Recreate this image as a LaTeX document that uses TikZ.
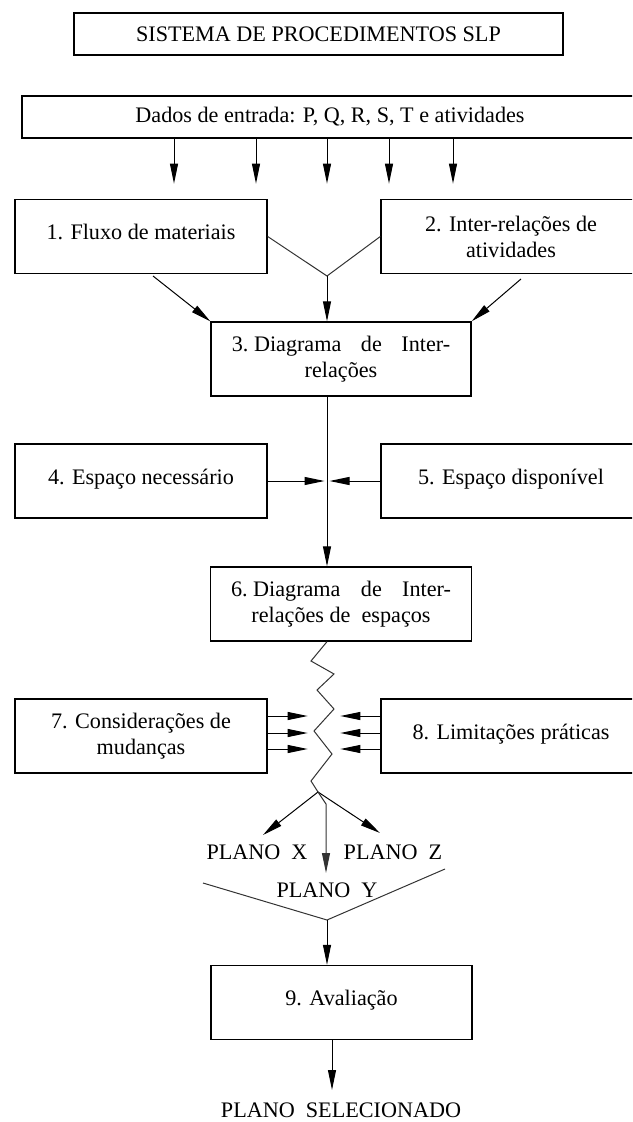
\documentclass[tikz,border=0pt]{standalone}
\usepackage{fontspec}
\setmainfont{Liberation Serif}
\usetikzlibrary{arrows.meta}
\begin{document}
\begin{tikzpicture}[x=0.6pt, y=-0.6pt,
        box/.style={draw, line width=0.8pt, minimum height=44.4pt, align=center, inner sep=0pt},
        onebox/.style={box, text height=9pt, text depth=5pt},
        bar/.style={draw, line width=0.8pt, minimum height=25.2pt, inner sep=0pt},
        wire/.style={line width=0.6pt},
        >={Triangle[length=12pt, width=4.8pt]},
        font=\fontsize{13.3}{15.6}\selectfont]
    \useasboundingbox (0,0) rectangle (632,1122);
    \clip (0,0) rectangle (632,1122);
    \node[bar, minimum width=293.4pt] (title) at (318.5,34) {SISTEMA DE PROCEDIMENTOS SLP};
    \node[bar, minimum width=369.6pt] (dados) at (330,117) {Dados de entrada: P, Q, R, S, T e atividades};
    \node[onebox, minimum width=151.2pt] (fluxo) at (141,236.5) {1. Fluxo de materiais};
    \node[box, minimum width=156pt] (ativ) at (511,236.5) {2. Inter-relações de\\ atividades};
    \node[box, minimum width=156pt] (diag) at (341,359) {\makebox[131pt]{3.\hspace{0.25em}Diagrama\hfill de\hfill Inter-}\\ relações};
    \node[onebox, minimum width=151.2pt] (necess) at (141,481) {4. Espaço necessário};
    \node[onebox, minimum width=156pt] (dispon) at (511,481) {5. Espaço disponível};
    \node[box, minimum width=156.6pt] (diagesp) at (341,604) {\makebox[132pt]{6.\hspace{0.25em}Diagrama\hfill de\hfill Inter-}\\ relações de~~espaços};
    \node[box, minimum width=151.2pt] (mudanca) at (141,736) {7. Considerações de\\ mudanças};
    \node[onebox, minimum width=156pt] (limite) at (511,736) {8. Limitações práticas};
    \node[onebox, minimum width=156.6pt] (aval) at (341.5,1002.5) {9. Avaliação};
    \node (planox) at (257,852) {PLANO~~X};
    \node (planoz) at (393,852) {PLANO~~Z};
    \node (planoy) at (327,890) {PLANO~~Y};
    \node (selec) at (341,1110) {PLANO~~SELECIONADO};
    \coordinate (v1) at (327,276);
    \coordinate (d1) at (153,276);
    \coordinate (d2) at (521,279);
    \coordinate (j) at (318,792);
    \coordinate (v2) at (327,920);
    \foreach \x in {174,256,327,389,453}
        \draw[wire, ->] (dados.south -| \x,0) -- ++(0,45);
    \draw[wire, black!80] (fluxo.east) -- (v1) -- (ativ.west);
    \draw[wire, ->] (v1) -- (v1 |- diag.north);
    \draw[wire, ->] (d1) -- (diag.north west);
    \draw[wire, ->] (d2) -- (diag.north east);
    \draw[wire, ->] (diag.south -| v1) -- (diagesp.north -| v1);
    \draw[wire, ->, shorten >=1.5pt] (necess.east) -- (v1 |- necess.east);
    \draw[wire, ->, shorten >=1.5pt] (dispon.west) -- (v1 |- dispon.west);
    \draw[wire, black!80] (diagesp.south -| v1) -- (311,661) -- (334,674) -- (317,690) -- (334,709)
        -- (314,731) -- (332,754) -- (311,781) -- (j);
    \foreach \y in {716,733,749} {
        \draw[wire, ->] (mudanca.east |- 0,\y) -- ++(40,0);
        \draw[wire, ->] (limite.west |- 0,\y) -- ++(-40,0);
    }
    \draw[wire, ->] (j) -- (263,835);
    \draw[wire, ->] (j) -- (380,833);
    \draw[wire, ->, black!80] (j) -- (326,804) -- (326,873);
    \draw[wire, black!80] (203,883) -- (v2) -- (445,869);
    \draw[wire, ->] (v2) -- (v2 |- aval.north);
    \draw[wire, ->] (aval.south -| 332,0) -- (332,1090);
\end{tikzpicture}
\end{document}
